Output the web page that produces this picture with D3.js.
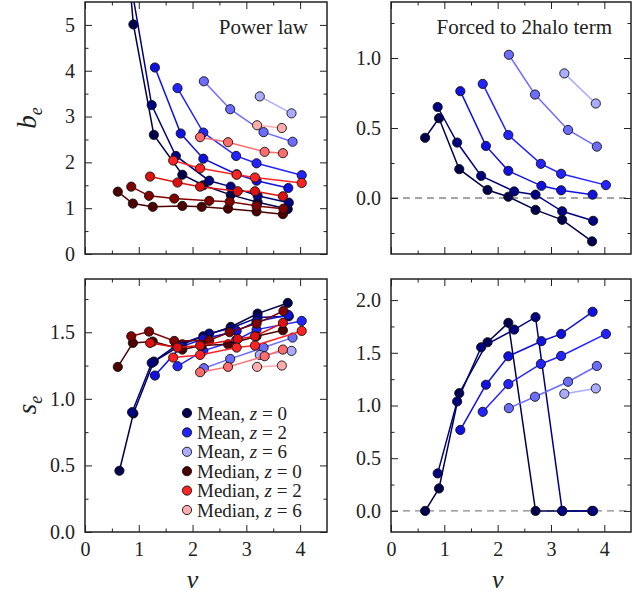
<!DOCTYPE html>
<html>
<head>
<meta charset="utf-8">
<script src="https://cdn.jsdelivr.net/npm/d3@7"></script>
<style>
  body { margin: 0; background: #fff; }
  svg text { font-family: "Liberation Serif", "DejaVu Serif", serif; fill: #222; }
</style>
</head>
<body>
<div id="viz"></div>
<script>
// peak height nu of each point, one row per line (same nu for all mean panels)
const meanNu = [
  [0.64, 0.90, 1.28, 1.81, 2.20, 2.71, 3.21, 3.77],
  [0.875, 1.24, 1.69, 2.31, 2.71, 3.21, 3.79],
  [1.30, 1.78, 2.20, 2.82, 3.19, 3.78],
  [1.72, 2.20, 2.81, 3.19, 4.03],
  [2.21, 2.70, 3.32, 3.86],
  [3.25, 3.84]
];
const medianNu = [
  [0.61, 0.89, 1.26, 1.81, 2.17, 2.66, 3.19, 3.68],
  [0.86, 1.19, 1.66, 2.31, 2.69, 3.19, 3.69],
  [1.21, 1.72, 2.14, 2.84, 3.16, 3.68],
  [1.64, 2.14, 2.82, 3.16, 4.03],
  [2.14, 2.66, 3.34, 3.68],
  [3.20, 3.66]
];

// b_e, power law fit
const meanBPower = [
  [8.4, 5.01, 2.60, 1.73, 1.50, 1.29, 1.13, 0.98],
  [5.75, 3.25, 2.14, 1.60, 1.47, 1.27, 1.12],
  [4.07, 2.63, 2.08, 1.74, 1.60, 1.44],
  [3.62, 2.65, 2.14, 1.98, 1.72],
  [3.77, 3.16, 2.66, 2.45],
  [3.44, 3.07]
];
const medianBPower = [
  [1.36, 1.10, 1.03, 1.05, 1.03, 0.99, 0.93, 0.87],
  [1.47, 1.27, 1.21, 1.16, 1.14, 1.05, 0.99],
  [1.69, 1.56, 1.47, 1.37, 1.37, 1.26],
  [2.04, 1.87, 1.73, 1.67, 1.55],
  [2.55, 2.44, 2.23, 2.20],
  [2.81, 2.75]
];

// b_e, forced to 2halo term
const meanBForced = [
  [0.43, 0.57, 0.206, 0.057, 0.009, -0.085, -0.156, -0.31],
  [0.65, 0.396, 0.158, 0.047, 0.024, -0.095, -0.163],
  [0.763, 0.372, 0.194, 0.087, 0.055, 0.024],
  [0.815, 0.45, 0.244, 0.173, 0.092],
  [1.023, 0.739, 0.486, 0.367],
  [0.89, 0.675]
];

// s_e, power law fit
const meanSPower = [
  [0.46, 0.89, 1.28, 1.41, 1.47, 1.54, 1.64, 1.72],
  [0.90, 1.27, 1.40, 1.49, 1.53, 1.61, 1.62],
  [1.175, 1.39, 1.45, 1.51, 1.58, 1.63],
  [1.245, 1.36, 1.44, 1.52, 1.585],
  [1.23, 1.30, 1.385, 1.46],
  [1.33, 1.36]
];
const medianSPower = [
  [1.24, 1.42, 1.43, 1.37, 1.40, 1.41, 1.47, 1.515],
  [1.47, 1.505, 1.435, 1.44, 1.50, 1.565, 1.66],
  [1.42, 1.385, 1.40, 1.45, 1.47, 1.57],
  [1.31, 1.33, 1.385, 1.40, 1.51],
  [1.20, 1.24, 1.32, 1.37],
  [1.24, 1.25]
];

// s_e, forced to 2halo term
const meanSForced = [
  [0, 0.213, 1.117, 1.60, 1.784, 0, 0, 0],
  [0.356, 1.038, 1.552, 1.72, 1.838, 0, 0],
  [0.768, 1.197, 1.467, 1.61, 1.679, 1.889],
  [0.94, 1.203, 1.394, 1.47, 1.679],
  [0.975, 1.083, 1.225, 1.375],
  [1.111, 1.162]
];

const xTicks = [0, 1, 2, 3, 4];
const legendKind = ['Mean', 'Mean', 'Mean', 'Median', 'Median', 'Median'];
const legendZ = [0, 2, 6, 0, 2, 6];

const meanColors = ['#00004d', '#000080', '#1010e0', '#2323ff', '#6c6cff', '#acacff'];
const medianColors = ['#4d0000', '#800000', '#e01010', '#ff2323', '#ff6c6c', '#ffacac'];
const legendColors = [meanColors[0], meanColors[3], meanColors[5], medianColors[0], medianColors[3], medianColors[5]];

const width = 632, height = 594;
const cols = [[85, 327], [391, 631]];
const rows = [[2, 254], [279, 532]];

const panels = [
  {col: 0, row: 0, yDomain: [0, 5.5], yMajor: d3.range(0, 5.01, 1), yMinor: d3.range(0.5, 5.5, 1),
   fmt: d3.format('d'), title: 'Power law', mean: meanBPower, median: medianBPower},
  {col: 1, row: 0, yDomain: [-0.4, 1.4], yMajor: [0, 0.5, 1.0], yMinor: [-0.25, 0.25, 0.75, 1.25],
   fmt: d3.format('.1f'), title: 'Forced to 2halo term', mean: meanBForced, zero: true},
  {col: 0, row: 1, yDomain: [0, 1.9], yMajor: [0, 0.5, 1.0, 1.5], yMinor: [0.25, 0.75, 1.25, 1.75],
   fmt: d3.format('.1f'), mean: meanSPower, median: medianSPower, legend: true, xLabels: true},
  {col: 1, row: 1, yDomain: [-0.2, 2.2], yMajor: [0, 0.5, 1.0, 1.5, 2.0], yMinor: [0.25, 0.75, 1.25, 1.75],
   fmt: d3.format('.1f'), mean: meanSForced, zero: true, xLabels: true}
];

const svg = d3.select('#viz').append('svg')
  .attr('width', width)
  .attr('height', height);

panels.forEach((p, pi) => {
  const [x0, x1] = cols[p.col];
  const [y0, y1] = rows[p.row];
  const x = d3.scaleLinear().domain([0, 4.5]).range([x0, x1]);
  const y = d3.scaleLinear().domain(p.yDomain).range([y1, y0]);

  const g = svg.append('g');

  g.append('clipPath').attr('id', 'clip' + pi)
    .append('rect').attr('x', x0).attr('y', y0).attr('width', x1 - x0).attr('height', y1 - y0);

  const plot = g.append('g').attr('clip-path', `url(#clip${pi})`);

  if (p.zero) {
    plot.append('line')
      .attr('x1', x0).attr('x2', x1)
      .attr('y1', y(0)).attr('y2', y(0))
      .attr('stroke', '#888').attr('stroke-width', 1.3)
      .attr('stroke-dasharray', '7,5');
  }

  const line = d3.line().x(d => x(d[0])).y(d => y(d[1]));

  const drawSet = (nus, vals, colors) => {
    vals.forEach((v, i) => {
      const pts = v.map((val, j) => [nus[i][j], val]);
      const s = plot.append('g');
      s.append('path')
        .attr('d', line(pts))
        .attr('fill', 'none')
        .attr('stroke', colors[i])
        .attr('stroke-width', 1.5);
      s.selectAll('circle')
        .data(pts)
        .join('circle')
        .attr('cx', d => x(d[0]))
        .attr('cy', d => y(d[1]))
        .attr('r', 4.6)
        .attr('fill', colors[i])
        .attr('stroke', '#111')
        .attr('stroke-width', 0.9);
    });
  };

  drawSet(meanNu, p.mean, meanColors);
  if (p.median) drawSet(medianNu, p.median, medianColors);

  // ticks on all four sides, pointing inwards
  const addAxis = (axis, tx, ty, size, values, fmt) => {
    const a = g.append('g')
      .attr('transform', `translate(${tx},${ty})`)
      .call(axis.tickValues(values).tickSize(-size).tickPadding(fmt ? 10 : 0).tickFormat(fmt || (() => '')));
    a.select('.domain').remove();
    a.selectAll('line').attr('stroke', '#222').attr('stroke-width', 1);
    a.selectAll('text').attr('font-size', 20).attr('fill', '#222')
      .attr('font-family', '"Liberation Serif", serif');
    return a;
  };

  const xMinor = [0.5, 1.5, 2.5, 3.5];
  addAxis(d3.axisBottom(x), 0, y1, 7, xTicks, p.xLabels ? d3.format('d') : null);
  addAxis(d3.axisBottom(x), 0, y1, 3.5, xMinor, null);
  addAxis(d3.axisTop(x), 0, y0, 7, xTicks, null);
  addAxis(d3.axisTop(x), 0, y0, 3.5, xMinor, null);
  addAxis(d3.axisLeft(y), x0, 0, 7, p.yMajor, p.fmt);
  addAxis(d3.axisLeft(y), x0, 0, 3.5, p.yMinor, null);
  addAxis(d3.axisRight(y), x1, 0, 7, p.yMajor, null);
  addAxis(d3.axisRight(y), x1, 0, 3.5, p.yMinor, null);

  g.append('rect')
    .attr('x', x0).attr('y', y0)
    .attr('width', x1 - x0).attr('height', y1 - y0)
    .attr('fill', 'none').attr('stroke', '#222').attr('stroke-width', 1.5);

  if (p.title) {
    g.append('text')
      .attr('x', x1 - 19).attr('y', y0 + 32)
      .attr('text-anchor', 'end')
      .attr('font-size', 21)
      .text(p.title);
  }

  if (p.xLabels) {
    g.append('text')
      .attr('x', x(2)).attr('y', 588)
      .attr('text-anchor', 'middle')
      .attr('font-size', 26)
      .attr('font-style', 'italic')
      .text('ν');
  }

  if (p.legend) {
    const lg = g.append('g');
    legendKind.forEach((k, i) => {
      const ly = 413 + i * 19.4;
      lg.append('circle')
        .attr('cx', 187).attr('cy', ly).attr('r', 4.6)
        .attr('fill', legendColors[i]).attr('stroke', '#111').attr('stroke-width', 0.9);
      const t = lg.append('text')
        .attr('x', 197).attr('y', ly)
        .attr('dy', '0.35em')
        .attr('font-size', 19);
      t.append('tspan').text(k + ',\u00a0');
      t.append('tspan').attr('font-style', 'italic').text('z');
      t.append('tspan').text(' = ' + legendZ[i]);
    });
  }
});

// y labels
const yLab = (cy, letter) => {
  const t = svg.append('text')
    .attr('transform', `translate(36,${cy}) rotate(-90)`)
    .attr('text-anchor', 'middle')
    .attr('font-size', 27)
    .attr('font-style', 'italic');
  t.append('tspan').text(letter);
  t.append('tspan').attr('font-size', 18).attr('dy', 6).text('e');
};
yLab(118, 'b');
yLab(405, 's');
</script>
</body>
</html>
